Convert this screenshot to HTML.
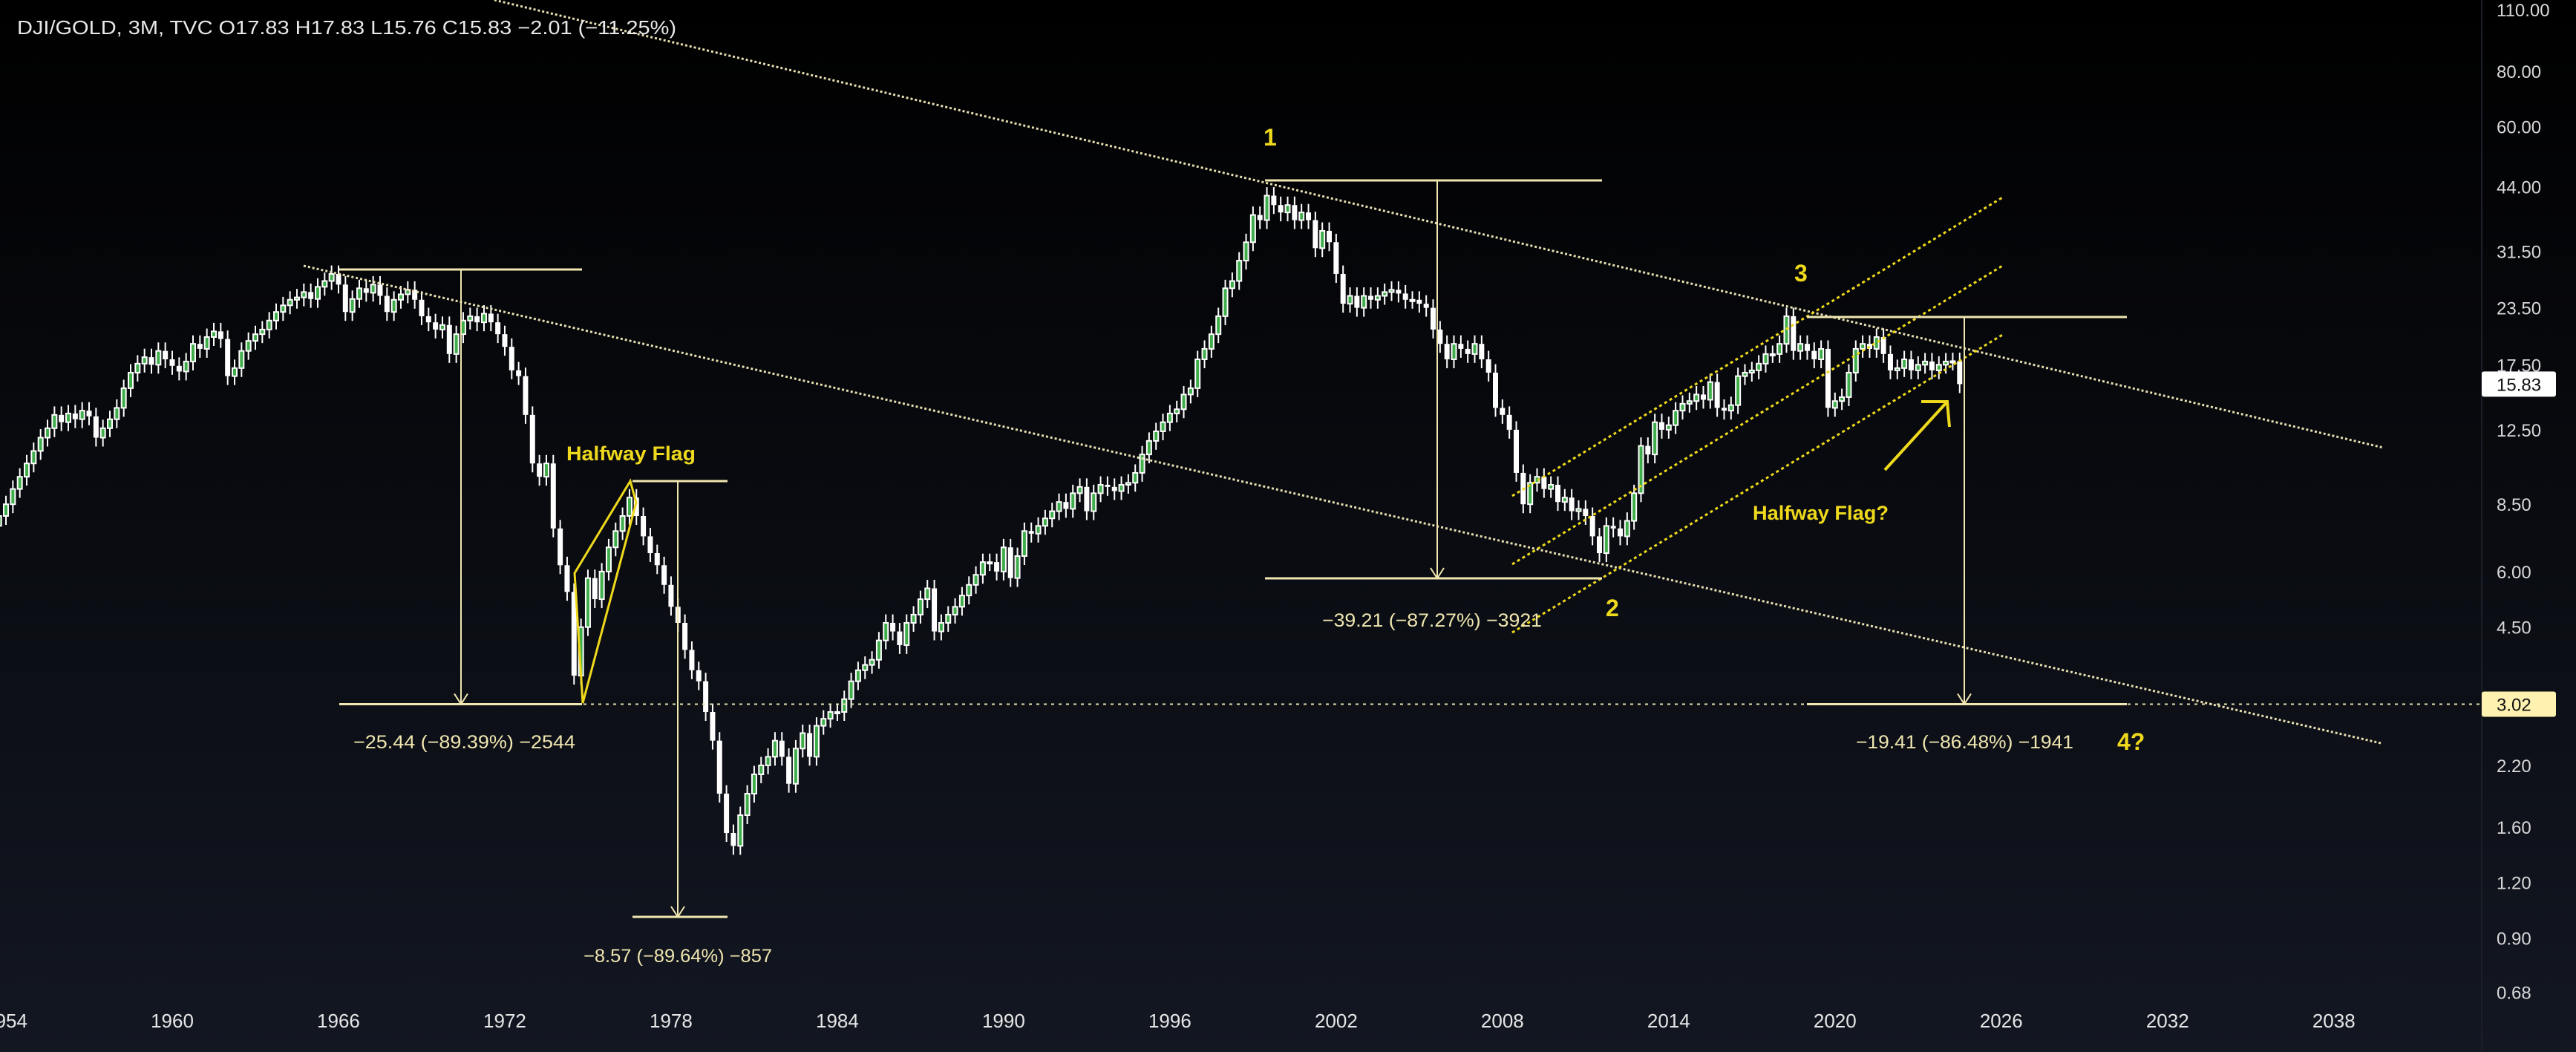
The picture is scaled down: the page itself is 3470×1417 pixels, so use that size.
<!DOCTYPE html>
<html><head><meta charset="utf-8"><style>
html,body{margin:0;padding:0;background:#000;}
svg{display:block;font-family:"Liberation Sans",sans-serif;}
</style></head><body>
<svg id="chart" width="3470" height="1417" viewBox="0 0 3470 1417" xmlns="http://www.w3.org/2000/svg">
<defs><linearGradient id="bg" x1="0" y1="0" x2="0" y2="1"><stop offset="0" stop-color="#000000"/><stop offset="1" stop-color="#131722"/></linearGradient></defs>
<rect x="0" y="0" width="3470" height="1417" fill="url(#bg)"/>
<line x1="3343" y1="0" x2="3343" y2="1417" stroke="#1c1f28" stroke-width="2"/>
<g id="candles"></g>
<g id="anno"></g>
<g id="axes"></g>
<text x="23" y="46" fill="#e8e8e8" font-size="26" textLength="888" lengthAdjust="spacingAndGlyphs">DJI/GOLD, 3M, TVC  O17.83  H17.83  L15.76  C15.83  −2.01 (−11.25%)</text>
</svg>
<script>
const closes=[
8.0,8.5,9.2,9.8, 10.5,11.2,12.0,12.6, 13.5,13.0,13.6,13.2, 13.8,13.4,12.0,12.6,
13.2,14.0,15.5,16.8, 17.6,18.2,17.5,18.8, 18.0,17.4,16.9,17.8, 19.5,19.0,20.2,20.8,
20.0,16.5,17.2,18.8, 19.8,20.5,21.0,22.0, 23.0,23.8,24.5,24.8, 25.5,24.6,26.2,27.0,
28.0,26.5,23.0,24.6, 26.0,25.4,26.5,25.0, 23.0,24.5,25.2,25.8, 24.5,22.5,21.8,21.0,
21.5,18.5,20.5,22.0, 22.5,21.8,22.8,21.8, 20.5,19.2,17.0,16.5, 13.5,10.5,9.8,10.5,
7.5,6.2,5.4,3.5, 4.5,5.8,5.2,6.0, 6.8,7.4,8.0,8.8, 8.0,7.2,6.6,6.2,
5.6,5.0,4.6,4.0, 3.6,3.4,2.9,2.5, 1.9,1.55,1.45,1.7, 1.9,2.1,2.2,2.3,
2.5,2.3,2.0,2.4, 2.6,2.3,2.7,2.8, 2.9,2.9,3.1,3.4, 3.6,3.7,3.8,4.2,
4.6,4.4,4.1,4.6, 4.8,5.2,5.5,4.4, 4.6,4.8,5.0,5.3, 5.6,5.9,6.3,6.3,
6.0,6.8,5.8,6.5, 7.4,7.3,7.6,7.9, 8.2,8.6,8.3,9.0, 9.3,8.2,9.0,9.4,
9.3,9.1,9.4,9.5, 10.0,11.0,11.8,12.4, 13.0,13.6,13.9,15.0, 15.5,18.0,19.0,20.5,
22.5,26.0,27.0,30.0, 33.0,38.0,37.0,42.0, 40.0,38.5,40.0,37.0, 38.5,37.0,32.0,35.0,
33.0,28.0,24.0,25.0, 23.5,25.0,24.5,25.0, 25.5,25.8,25.3,24.5, 24.5,24.0,23.5,21.0,
19.5,18.0,19.5,19.0, 18.5,19.5,18.0,16.8, 14.0,13.5,12.5,10.0, 8.5,9.5,9.8,9.2,
9.4,8.6,8.8,8.2, 8.3,8.0,7.2,6.6, 7.6,7.5,7.2,7.8, 9.0,11.5,11.0,13.0,
12.5,12.8,13.8,14.3, 14.5,15.0,14.6,16.0, 14.0,13.8,14.2,16.5, 16.8,17.0,17.6,18.5,
18.5,19.5,22.5,18.8, 19.5,18.8,18.0,19.0, 14.0,14.5,14.8,16.8, 19.0,19.5,19.0,20.2,
18.5,17.0,17.2,18.0, 17.0,17.5,17.8,17.0, 17.5,17.8,17.83,15.83];
const priceTicks=["110.00","80.00","60.00","44.00","31.50","23.50","17.50","12.50","8.50","6.00","4.50","2.20","1.60","1.20","0.90","0.68"];
const yearTicks=[1954,1960,1966,1972,1978,1984,1990,1996,2002,2008,2014,2020,2026,2032,2038];
const lastPrice=15.83, targetPrice=3.02;
const startTime=2024.5-(closes.length-1)*0.25;

const NS="http://www.w3.org/2000/svg";
const X=t=>232+(t-1960)*37.33;
const Y=v=>13+(Math.log(110)-Math.log(v))*260.2;
function mk(tag,attrs,parent){const e=document.createElementNS(NS,tag);for(const k in attrs)e.setAttribute(k,attrs[k]);parent.appendChild(e);return e;}

const cg=document.getElementById('candles');
for(let i=0;i<closes.length;i++){
  const c=closes[i], o=i>0?closes[i-1]:c*0.95;
  const hi=Math.max(o,c)*1.045, lo=Math.min(o,c)*0.955;
  const x=X(startTime+i*0.25);
  const g=mk('g',{},cg);
  
  
  mk('line',{x1:x,x2:x,y1:Y(hi),y2:Y(lo),stroke:'#ffffff','stroke-width':2},g);
  const top=Y(Math.max(o,c)), bot=Y(Math.min(o,c));
  const h=Math.max(2,bot-top);
  if(c>=o){
    mk('rect',{x:x-3,y:top,width:6,height:h,fill:'#3fae4a',stroke:'#ffffff','stroke-width':2},g);
  }else{
    mk('rect',{x:x-3.5,y:top,width:7,height:h,fill:'#ffffff'},g);
  }
}

const ag=document.getElementById('anno');
const pale='#efe6b0', yel='#efd91c';
function line(x1,y1,x2,y2,col,w,dash,name){const l=mk('line',{x1,y1,x2,y2,stroke:col,'stroke-width':w},ag);if(dash)l.setAttribute('stroke-dasharray',dash);return l;}
function text(x,y,s,col,size,bold,name,len){const t=mk('text',{x,y,fill:col,'font-size':size},ag);if(bold)t.setAttribute('font-weight','bold');if(len){t.setAttribute('textLength',len);t.setAttribute('lengthAdjust','spacingAndGlyphs');}t.textContent=s;return t;}
function arrowDown(x,y,col){const p=mk('path',{d:`M${x-9} ${y-14} L${x} ${y} L${x+9} ${y-14}`,stroke:col,'stroke-width':2,fill:'none'},ag);}

// long downtrend lines
line(666,0,3210,(3210-666)*0.237,'#e8dfb0',3,'3 3','upper-trendline');
line(409,358,3210,358+(3210-409)*0.2298,'#e8dfb0',3,'3 3','lower-trendline');
// channel
line(2037,668,2699,265,yel,3,'4 4','channel-top');
line(2037,760,2699,357,yel,3,'4 4','channel-middle');
line(2037,852,2699,450,yel,3,'4 4','channel-bottom');
// target line
line(786,Y(targetPrice),3342,Y(targetPrice),'#e8dfb0',2,'4 6','target-line');

// measures
function measure(x1,x2,xv,yt,yb,name){line(x1,yt,x2,yt,pale,3,null,name+'-top');line(x1,yb,x2,yb,pale,3,null,name+'-bottom');line(xv,yt,xv,yb,pale,2,null,name+'-vertical');arrowDown(xv,yb,pale);}
measure(457,784,621,363,Y(targetPrice),'measure-1966');
measure(852,980,913,648,1235,'measure-flag');
measure(1704,2158,1936,243,779,'measure-1999');
measure(2434,2865,2646,427,Y(targetPrice),'measure-2018');
// flag polygon
const fp=mk('path',{d:'M785 947 L774 772 L849 648 L857 677 Z',stroke:yel,'stroke-width':3,fill:'none'},ag);


// arrow
line(2539,633,2623,541,yel,4,null,'up-arrow');
const ah=mk('path',{d:'M2588 541 L2623 541 L2626 575',stroke:yel,'stroke-width':4,fill:'none'},ag);



text(476,1008,'−25.44 (−89.39%) −2544',pale,25,false,'measure-1966-label',299);
text(786,1296,'−8.57 (−89.64%) −857',pale,25,false,'measure-flag-label',254);
text(1781,844,'−39.21 (−87.27%) −3921',pale,25,false,'measure-1999-label',296);
text(2500,1008,'−19.41 (−86.48%) −1941',pale,25,false,'measure-2018-label',293);
text(763,620,'Halfway Flag',yel,27,true,'halfway-flag-label',174);
text(2361,700,'Halfway Flag?',yel,27,true,'halfway-flag-question-label',183);
text(1702,196,'1',yel,32,true,'wave-1-label');
text(2163,830,'2',yel,32,true,'wave-2-label');
text(2417,379,'3',yel,32,true,'wave-3-label');
text(2852,1010,'4?',yel,32,true,'wave-4-label');

// axes
const xg=document.getElementById('axes');
priceTicks.forEach(s=>{const t=mk('text',{x:3363,y:Y(parseFloat(s))+9,fill:'#d8d8d8','font-size':24},xg);t.textContent=s;});
yearTicks.forEach(yv=>{const t=mk('text',{x:X(yv),y:1384,fill:'#e6e6e6','font-size':26,'text-anchor':'middle'},xg);t.textContent=String(yv);});
function box(v,bg,name){const y=Y(v);const r=mk('rect',{x:3343,y:y-17,width:100,height:34,rx:3,fill:bg},xg);const t=mk('text',{x:3363,y:y+9,fill:'#111','font-size':24},xg);t.textContent=v.toFixed(2);}
box(lastPrice,'#ffffff','last-price-label');
box(targetPrice,'#fff2b0','target-price-label');
</script>
</body></html>
